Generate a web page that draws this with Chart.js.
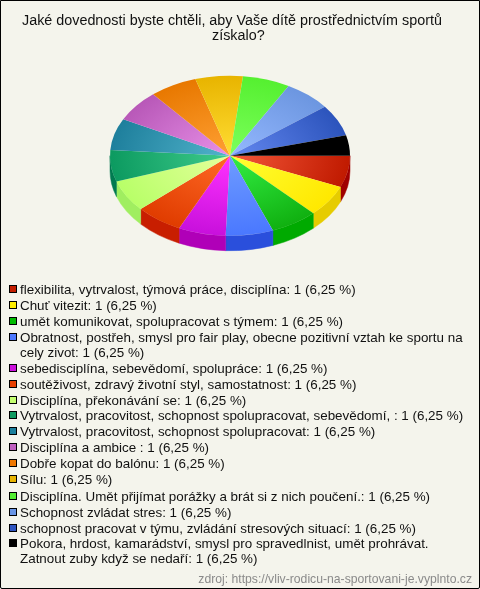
<!DOCTYPE html>
<html lang="cs"><head><meta charset="utf-8">
<script src="https://cdn.jsdelivr.net/npm/chart.js@4"></script>
<style>
html,body{margin:0;padding:0;background:#f4f4ec}
#frame{position:absolute;left:0;top:0;width:478px;height:587px;border:1px solid #000;border-radius:0 0 2px 2px;background:#f4f4ec;overflow:hidden}
#c{position:absolute;left:-1px;top:-1px}
.t{position:absolute;font:14.35px/15px "Liberation Sans",Arial,sans-serif;color:#111;white-space:nowrap}
#t0{left:21px;top:12px}
#t1{left:211px;top:27px}
#legend{position:absolute;left:0;top:0;font:13.4px "Liberation Sans",Arial,sans-serif;color:#111}
.row{position:absolute;left:19px;width:450px;line-height:15px}
.sw{position:absolute;left:-11px;top:3px;width:6px;height:6px;border:1px solid #000}
#src{position:absolute;right:7px;top:571px;font:12.2px "Liberation Sans",Arial,sans-serif;color:#8a8a8a}
</style></head><body>
<div id="frame"><canvas id="c" width="480" height="589"></canvas><div class="t" id="t0"></div><div class="t" id="t1"></div><div id="legend"></div><div id="src"></div></div>
<script>
const titleLines=["Jaké dovednosti byste chtěli, aby Vaše dítě prostřednictvím sportů","získalo?"];
const sourceText="zdroj: https://vliv-rodicu-na-sportovani-je.vyplnto.cz";
const categories=["flexibilita, vytrvalost, týmová práce, disciplína","Chuť vitezit","umět komunikovat, spolupracovat s týmem","Obratnost, postřeh, smysl pro fair play, obecne pozitivní vztah ke sportu na\ncely zivot","sebedisciplína, sebevědomí, spolupráce","soutěživost, zdravý životní styl, samostatnost","Disciplína, překonávání se","Vytrvalost, pracovitost, schopnost spolupracovat, sebevědomí, ","Vytrvalost, pracovitost, schopnost spolupracovat","Disciplína a ambice ","Dobře kopat do balónu","Sílu","Disciplína. Umět přijímat porážky a brát si z nich poučení.","Schopnost zvládat stres","schopnost pracovat v týmu, zvládání stresových situací","Pokora, hrdost, kamarádství, smysl pro spravedlnist, umět prohrávat.\nZatnout zuby když se nedaří"];
const counts=[1,1,1,1,1,1,1,1,1,1,1,1,1,1,1,1];
const percentLabels=["6,25","6,25","6,25","6,25","6,25","6,25","6,25","6,25","6,25","6,25","6,25","6,25","6,25","6,25","6,25","6,25"];
// Wedge widths as drawn in the picture: the last wedge is visibly narrower than the rest.
const drawnWedges=[1,1,1,1,1,1,1,1,1,1,1,1,1,1,1,0.64];
const swatchColors=["#c41e00","#ffee00","#00bb00","#4d79ff","#cc11dd","#e84000","#c4ff70","#0f9a60","#1b7f9c","#c060c0","#ee7700","#e8b400","#55ee33","#6a96e6","#2f55c0","#000000"];
const hubColors=["#f4583a","#ffff33","#33ee44","#6f9cff","#ff33ff","#ff6a26","#e4ff9c","#3fcc8c","#52b4cc","#e890e8","#ffa033","#ffdd33","#7cff5c","#94b8ff","#6488f0","#000000"];
const rimColors=["#c01a00","#ffe800","#10b010","#4a78ff","#c810dc","#e03c00","#b8ff68","#0c9a60","#1e7f9c","#b858b8","#e87800","#e8b400","#55f030","#6c96e0","#2c54bc","#000000"];
const wallColors=["#a00000","#e6cc00","#00aa00","#2a4fdc","#b000b8","#c81e00","#a0ee60","#007a50","#007a50","#000","#000","#000","#000","#000","#000","#000"];
const legendRowTops=[281,297,313,329,360,376,392,407,423,439,455,471,488,504,520,535];

const CX=230, CY=155.7, RADIUS=120, RY_RATIO=2/3, DEPTH=15;
function place(ctx,a){ctx.translate(CX,CY);ctx.scale(1,RY_RATIO);ctx.translate(-a.x,-a.y);}
const tilt={id:'tilt',
 beforeDatasetsDraw(chart){
  const ctx=chart.ctx, arcs=chart.getDatasetMeta(0).data;
  arcs.forEach((el,i)=>{
   const a=el.getProps(['x','y','startAngle','endAngle','outerRadius'],true);
   const s=Math.max(a.startAngle,0), e=Math.min(a.endAngle,Math.PI);
   if(e<=s) return;
   ctx.save();
   ctx.fillStyle=ctx.strokeStyle=wallColors[i];ctx.lineWidth=.5;
   ctx.beginPath();
   ctx.ellipse(CX,CY,a.outerRadius,a.outerRadius*RY_RATIO,0,s,e);
   ctx.ellipse(CX,CY+DEPTH,a.outerRadius,a.outerRadius*RY_RATIO,0,e,s,true);
   ctx.closePath();ctx.fill();ctx.stroke();
   ctx.restore();
  });
  const a0=arcs[0].getProps(['x','y'],true);
  ctx.save();place(ctx,a0);
 },
 afterDatasetsDraw(chart){chart.ctx.restore();}
};
new Chart(document.getElementById('c'),{
 type:'pie',
 data:{labels:categories,datasets:[{data:drawnWedges,borderWidth:0,radius:RADIUS,
  backgroundColor(c){
   const ca=c.chart.chartArea; if(!ca) return swatchColors[c.dataIndex];
   const x=(ca.left+ca.right)/2,y=(ca.top+ca.bottom)/2;
   const g=c.chart.ctx.createRadialGradient(x,y,0,x,y,RADIUS);
   g.addColorStop(0,hubColors[c.dataIndex]);g.addColorStop(1,rimColors[c.dataIndex]);
   return g;
  }}]},
 options:{responsive:false,animation:false,rotation:90,
  layout:{padding:{left:0,right:0,top:40,bottom:280}},
  plugins:{legend:{display:false},tooltip:{enabled:false},title:{display:false}}},
 plugins:[tilt]
});
document.getElementById('t0').textContent=titleLines[0];
document.getElementById('t1').textContent=titleLines[1];
const legend=document.getElementById('legend');
categories.forEach((name,i)=>{
 const r=document.createElement('div');r.className='row';r.style.top=legendRowTops[i]+'px';
 const sw=document.createElement('span');sw.className='sw';sw.style.background=swatchColors[i];r.appendChild(sw);
 const text=name+": "+counts[i]+" ("+percentLabels[i]+" %)";
 text.split("\n").forEach((ln,k)=>{if(k)r.appendChild(document.createElement('br'));r.appendChild(document.createTextNode(ln));});
 legend.appendChild(r);
});
document.getElementById('src').textContent=sourceText;
</script></body></html>
